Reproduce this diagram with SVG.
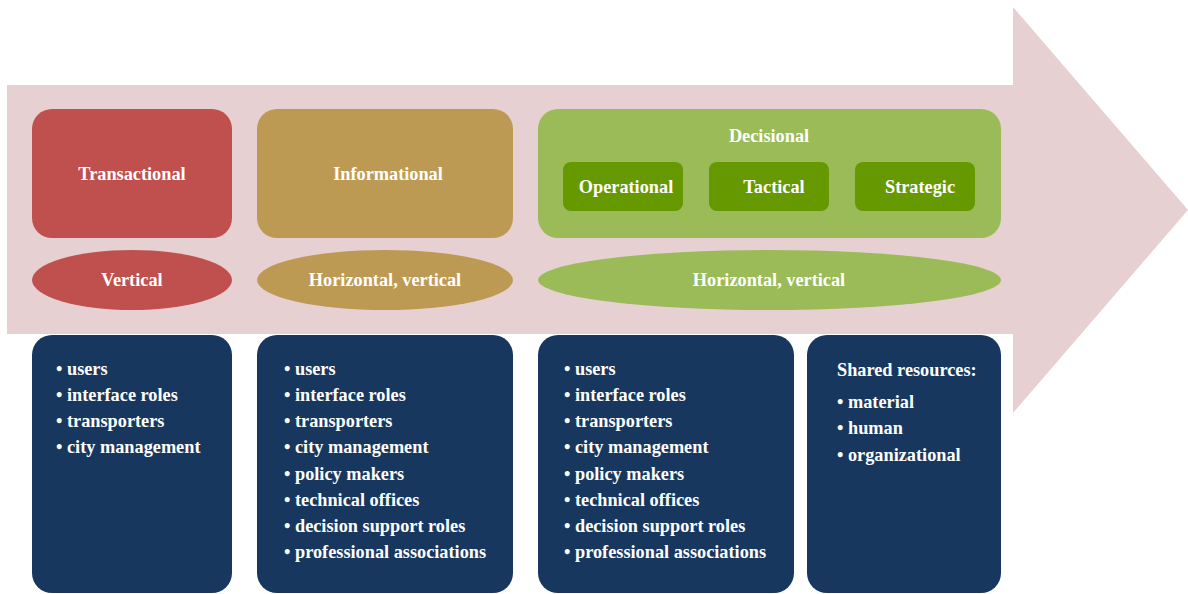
<svg xmlns="http://www.w3.org/2000/svg" width="1188" height="594" viewBox="0 0 1188 594">
<style>
.t{font-family:"Liberation Serif","Times New Roman",serif;font-weight:bold;font-size:18.3px;fill:#FFFFFF}
.c{text-anchor:middle}
.red{fill:#C0504D}
.gold{fill:#BD9A54}
.lg{fill:#9BBB59}
.dg{fill:#669900}
.navy{fill:#17375E}
</style>
<rect width="1188" height="594" fill="#FFFFFF"/>
<g id="arrow">
<polygon points="7,85 1013,85 1013,7 1188,210 1013,413 1013,334 7,334" fill="#E7D0D1"/>
</g>
<g id="transactional">
<rect class="red" x="32" y="109" width="200" height="129" rx="20"/>
<text class="t c" x="132" y="180">Transactional</text>
</g>
<g id="vertical">
<ellipse class="red" cx="132" cy="280" rx="100" ry="30"/>
<text class="t c" x="132" y="286">Vertical</text>
</g>
<g id="informational">
<rect class="gold" x="257" y="109" width="256" height="129" rx="20"/>
<text class="t c" x="388" y="180">Informational</text>
</g>
<g id="hv1">
<ellipse class="gold" cx="385" cy="280" rx="128" ry="30"/>
<text class="t c" x="385" y="286">Horizontal, vertical</text>
</g>
<g id="decisional">
<rect class="lg" x="538" y="109" width="463" height="129" rx="20"/>
<text class="t c" x="769" y="142">Decisional</text>
</g>
<g id="operational">
<rect class="dg" x="563" y="162" width="120" height="49" rx="8"/>
<text class="t c" x="626" y="193">Operational</text>
</g>
<g id="tactical">
<rect class="dg" x="709" y="162" width="120" height="49" rx="8"/>
<text class="t c" x="774" y="193">Tactical</text>
</g>
<g id="strategic">
<rect class="dg" x="855" y="162" width="120" height="49" rx="8"/>
<text class="t c" x="920" y="193">Strategic</text>
</g>
<g id="hv2">
<ellipse class="lg" cx="769.5" cy="280" rx="231.5" ry="30"/>
<text class="t c" x="769" y="286">Horizontal, vertical</text>
</g>
<g id="actors1">
<rect class="navy" x="32" y="335" width="200" height="258" rx="20"/>
<text class="t" x="56" y="375">• users</text>
<text class="t" x="56" y="401">• interface roles</text>
<text class="t" x="56" y="427">• transporters</text>
<text class="t" x="56" y="453">• city management</text>
</g>
<g id="actors2">
<rect class="navy" x="257" y="335" width="256" height="258" rx="20"/>
<text class="t" x="284" y="375">• users</text>
<text class="t" x="284" y="401">• interface roles</text>
<text class="t" x="284" y="427">• transporters</text>
<text class="t" x="284" y="453">• city management</text>
<text class="t" x="284" y="480">• policy makers</text>
<text class="t" x="284" y="506">• technical offices</text>
<text class="t" x="284" y="532">• decision support roles</text>
<text class="t" x="284" y="558">• professional associations</text>
</g>
<g id="actors3">
<rect class="navy" x="538" y="335" width="256" height="258" rx="20"/>
<text class="t" x="564" y="375">• users</text>
<text class="t" x="564" y="401">• interface roles</text>
<text class="t" x="564" y="427">• transporters</text>
<text class="t" x="564" y="453">• city management</text>
<text class="t" x="564" y="480">• policy makers</text>
<text class="t" x="564" y="506">• technical offices</text>
<text class="t" x="564" y="532">• decision support roles</text>
<text class="t" x="564" y="558">• professional associations</text>
</g>
<g id="resources">
<rect class="navy" x="807" y="335" width="194" height="258" rx="20"/>
<text class="t" x="837" y="376">Shared resources:</text>
<text class="t" x="837" y="408">• material</text>
<text class="t" x="837" y="434">• human</text>
<text class="t" x="837" y="461">• organizational</text>
</g>
<g id="connectors"></g>
</svg>
